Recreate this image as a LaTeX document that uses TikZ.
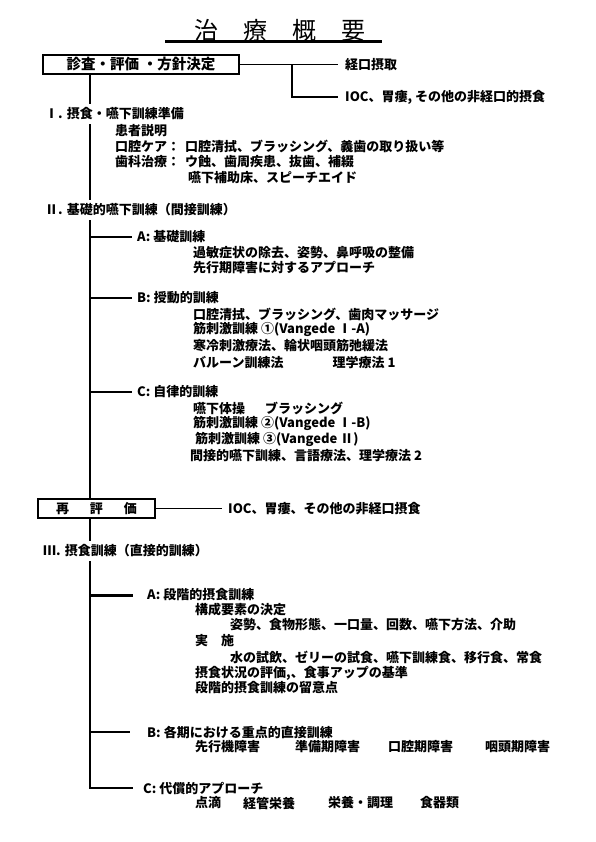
\documentclass[tikz,border=0pt]{standalone}
\usepackage{fontspec}
\setmainfont{Noto Sans CJK JP}
\begin{document}
\begin{tikzpicture}[x=1pt, y=-1pt,
  ryo/.style = {anchor=west, inner sep=0pt, font=\fontsize{13}{15}\selectfont\bfseries},
  ryolink/.style = {ryo, inner xsep=#1},
  ryosec/.style = {ryo, inner ysep=4pt},
  ryobox/.style = {draw, line width=#1, inner sep=0pt, font=\fontsize{14.5}{16}\selectfont\bfseries},
  ryowire/.style = {line width=#1}
]
  \useasboundingbox (0,0) rectangle (595,842);
  % 見出し
  \node[font=\fontsize{24}{28}\selectfont] (title) at (280,30)
    {治\hspace{25pt}療\hspace{25pt}概\hspace{25pt}要};
  \draw[line width=3pt] (165,42) -- (382,42);
  % 診査・評価
  \node[ryobox=2.5pt, minimum width=196pt, minimum height=19pt] (diag) at (141,64.5)
    {診査・評価\hspace{4pt}・方針決定};
  \node[ryolink=7pt] (oral) at (338,64.5) {経口摂取};
  \node[ryolink=7pt] (nonoral) at (338,97) {IOC、胃瘻, その他の非経口的摂食};
  \coordinate (br) at (292,64.5);
  \coordinate (trunk) at (90,0);
  \draw[ryowire=1.8pt] (diag.east) -- (oral.west);
  \draw[ryowire=1.8pt] (br) |- (nonoral.west);
  % I
  \node[ryosec] (sec1) at (45,114) {Ⅰ.\hspace{4pt}摂食・嚥下訓練準備};
  \node[ryo] (p1) at (115,131) {患者説明};
  \node[ryo] (p2) at (115,146) {口腔ケア：\hspace{5pt}口腔清拭、ブラッシング、義歯の取り扱い等};
  \node[ryo] (p3) at (115,162) {歯科治療：\hspace{5pt}ウ蝕、歯周疾患、抜歯、補綴};
  \node[ryo] (p4) at (188,178) {嚥下補助床、スピーチエイド};
  \draw[ryowire=2pt] (diag.south -| trunk) -- (sec1.north -| trunk);
  % II
  \node[ryosec] (sec2) at (45,210) {Ⅱ.\hspace{4pt}基礎的嚥下訓練（間接訓練）};
  \draw[ryowire=2pt] (sec1.south -| trunk) -- (sec2.north -| trunk);
  \node[ryolink=5pt] (a2) at (132,237) {A:\hspace{3pt}基礎訓練};
  \node[ryo] (a2x) at (193,253) {過敏症状の除去、姿勢、鼻呼吸の整備};
  \node[ryo] (a2y) at (193,268) {先行期障害に対するアプローチ};
  \node[ryolink=5pt] (b2) at (132,298) {B:\hspace{3pt}授動的訓練};
  \node[ryo] (b2x) at (193,314) {口腔清拭、ブラッシング、歯肉マッサージ};
  \node[ryo] (b2y) at (193,329) {筋刺激訓練 ①(Vangede Ⅰ-A)};
  \node[ryo] (b2z) at (193,346) {寒冷刺激療法、輪状咽頭筋弛緩法};
  \node[ryo] (b2w) at (193,363) {バルーン訓練法\hspace{49pt}理学療法 1};
  \node[ryolink=5pt] (c2) at (132,392) {C:\hspace{3pt}自律的訓練};
  \node[ryo] (c2x) at (193,408) {嚥下体操\hspace{20pt}ブラッシング};
  \node[ryo] (c2y) at (193,423) {筋刺激訓練 ②(Vangede Ⅰ-B)};
  \node[ryo] (c2z) at (195,439) {筋刺激訓練 ③(Vangede Ⅱ)};
  \node[ryo] (c2w) at (190,456) {間接的嚥下訓練、言語療法、理学療法 2};
  % 再評価
  \node[ryobox=1.6pt, font=\fontsize{13}{15}\selectfont\bfseries,
    minimum width=117pt, minimum height=19pt] (reeval) at (96.5,508.5)
    {再\hspace{21pt}評\hspace{21pt}価};
  \node[ryolink=6pt] (renote) at (222,508.5) {IOC、胃瘻、その他の非経口摂食};
  \draw[ryowire=2pt] (sec2.south -| trunk) -- (reeval.north -| trunk);
  \foreach \b in {a2,b2,c2}
    \draw[ryowire=1.8pt] (trunk |- \b.west) -- (\b.west);
  \draw[ryowire=1.8pt] (reeval.east) -- (renote.west);
  % III
  \node[ryosec] (sec3) at (43,551) {Ⅲ.\hspace{4pt}摂食訓練（直接的訓練）};
  \draw[ryowire=2pt] (reeval.south -| trunk) -- (sec3.north -| trunk);
  \node[ryolink=14pt] (a3) at (133,595) {A:\hspace{3pt}段階的摂食訓練};
  \node[ryo] (a3x) at (195,610) {構成要素の決定};
  \node[ryo] (a3y) at (230,625) {姿勢、食物形態、一口量、回数、嚥下方法、介助};
  \node[ryo] (a3z) at (195,641) {実\hspace{13pt}施};
  \node[ryo] (a3w) at (230,657) {水の試飲、ゼリーの試食、嚥下訓練食、移行食、常食};
  \node[ryo] (a3v) at (195,673) {摂食状況の評価,、食事アップの基準};
  \node[ryo] (a3u) at (195,688) {段階的摂食訓練の留意点};
  \node[ryolink=17pt] (b3) at (130,732) {B:\hspace{3pt}各期における重点的直接訓練};
  \node[ryo] (b3x) at (195,747) {先行機障害};
  \node[ryo] (b3y) at (295,747) {準備期障害};
  \node[ryo] (b3z) at (388,747) {口腔期障害};
  \node[ryo] (b3w) at (485,747) {咽頭期障害};
  \node[ryolink=10pt] (c3) at (133,788) {C:\hspace{3pt}代償的アプローチ};
  \node[ryo] (c3x) at (195,803) {点滴};
  \node[ryo] (c3y) at (243,803) {経管栄養};
  \node[ryo] (c3z) at (328,803) {栄養・調理};
  \node[ryo] (c3w) at (420,803) {食器類};
  \draw[ryowire=2.6pt] (sec3.south -| trunk) |- (c3.west);
  \draw[ryowire=3pt] (trunk |- a3.west) -- (a3.west);
  \draw[ryowire=1.3pt] (trunk |- b3.west) -- (b3.west);
\end{tikzpicture}
\end{document}
